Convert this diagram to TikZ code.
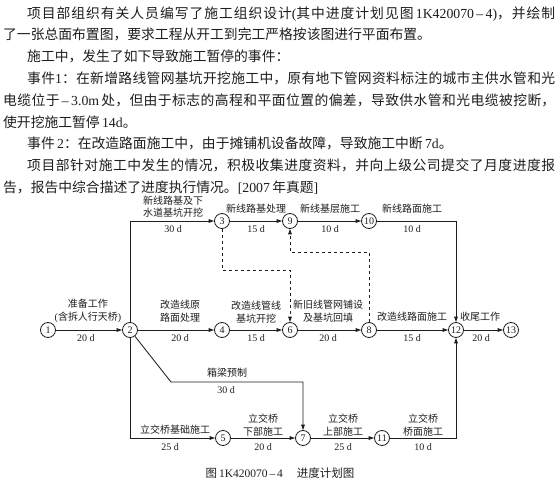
\documentclass[tikz,border=0pt]{standalone}
\usepackage{fontspec}
\setmainfont{Liberation Serif}
\newfontfamily\cjk{Noto Sans CJK SC}
\usetikzlibrary{arrows.meta}
\XeTeXlinebreaklocale "zh"
\XeTeXlinebreakskip=0pt plus 6pt
\XeTeXinterchartokenstate=1
\XeTeXinterchartoks 1 1 = {\hskip 0pt plus 3pt\relax}
\XeTeXinterchartoks 3 1 = {\hskip 0pt plus 3pt\relax}
\XeTeXinterchartoks 1 0 = {\hskip 0pt plus 3pt\relax}
\XeTeXinterchartoks 0 1 = {\hskip 0pt plus 3pt\relax}
\tolerance=10000
\newcommand{\lat}[1]{{\rmfamily #1}}
\definecolor{ink}{HTML}{1E1E1E}
\tikzset{
  bodyfont/.style={font=\cjk\fontsize{13.8}{16}\selectfont},
  bodyline/.style={bodyfont, anchor=base west, inner sep=0pt, text=ink},
  jline/.style={bodyline, text width=#1, align=justify},
  ev/.style={circle, draw=ink, line width=0.8pt, minimum size=15pt, inner sep=0pt,
    font=\rmfamily\fontsize{10}{10}\selectfont, text=ink},
  lab/.style={inner sep=0pt, align=center, text=ink, font=\cjk\fontsize{10}{12.5}\selectfont},
  dur/.style={inner sep=0pt, text=ink, font=\rmfamily\fontsize{10}{12}\selectfont},
  act/.style={draw=ink, line width=0.85pt, -{Triangle[length=5.5pt,width=3.6pt]}},
  dum/.style={act, dash pattern=on 3.5pt off 2.5pt},
}
\begin{document}
\begin{tikzpicture}[x=1pt,y=-1pt]
\path[use as bounding box, fill=white] (0,0) rectangle (558,482);

% ---- body text ----
\node[jline=528pt] (t1) at (27,18) {\parfillskip=0pt 项目部组织有关人员编写了施工组织设计\lat{(}其中进度计划见图\lat{\,1K420070\,–\,4)}，并绘制\par};
\node[bodyline] (t2) at (3,39.8) {了一张总面布置图，要求工程从开工到完工严格按该图进行平面布置。};
\node[bodyline] (t3) at (27,61.6) {施工中，发生了如下导致施工暂停的事件：};
\node[jline=528pt] (t4) at (27,83.4) {\parfillskip=0pt 事件\lat{1}：在新增路线管网基坑开挖施工中，原有地下管网资料标注的城市主供水管和光\par};
\node[jline=552pt] (t5) at (3,105.2) {\parfillskip=0pt 电缆位于\lat{\,–\,3.0m\,}处，但由于标志的高程和平面位置的偏差，导致供水管和光电缆被挖断，\par};
\node[bodyline] (t6) at (3,127) {使开挖施工暂停\lat{\,14d}。};
\node[bodyline] (t7) at (27,148.8) {事件\lat{\,2}：在改造路面施工中，由于摊铺机设备故障，导致施工中断\lat{\,7d}。};
\node[jline=528pt] (t8) at (27,170.6) {\parfillskip=0pt 项目部针对施工中发生的情况，积极收集进度资料，并向上级公司提交了月度进度报\par};
\node[bodyline] (t9) at (3,192.4) {告，报告中综合描述了进度执行情况。\lat{[2007\,}年真题\lat{]}};

% ---- events ----
\node[ev] (n1) at (48,330) {1};
\node[ev] (n2) at (130,330) {2};
\node[ev] (n3) at (222,221) {3};
\node[ev] (n9) at (290,221) {9};
\node[ev] (n10) at (369,221) {10};
\node[ev] (n4) at (222,330) {4};
\node[ev] (n6) at (290,330) {6};
\node[ev] (n8) at (369,330) {8};
\node[ev] (n12) at (456,330) {12};
\node[ev] (n13) at (511,330) {13};
\node[ev] (n5) at (223,438) {5};
\node[ev] (n7) at (303,438) {7};
\node[ev] (n11) at (382,438) {11};

\coordinate (bend) at (171,382);
\coordinate (d1) at (222,270);
\coordinate (d2) at (369,252);

% ---- activities ----
\draw[act] (n1) -- (n2);
\draw[act] (n2) |- (n3);
\draw[act] (n3) -- (n9);
\draw[act] (n9) -- (n10);
\draw[act] (n10) -| (n12);
\draw[act] (n2) -- (n4);
\draw[act] (n4) -- (n6);
\draw[act] (n6) -- (n8);
\draw[act] (n8) -- (n12);
\draw[act] (n12) -- (n13);
\draw[act] (n2) -- (bend) -| (n7);
\draw[act] (n2) |- (n5);
\draw[act] (n5) -- (n7);
\draw[act] (n7) -- (n11);
\draw[act] (n11) -| (n12);
\draw[dum] (n3) -- (d1) -| (n6);
\draw[dum] (n8) -- (d2) -| (n9);

% ---- labels ----
\node[lab] (a12) at (88,311) {准备工作\\\lat{(}含拆人行天桥\lat{)}};
\node[dur] (b12) at (86,338) {20 d};
\node[lab] (a23) at (173,206.5) {新线路基及下\\水道基坑开挖};
\node[dur] (b23) at (173,229) {30 d};
\node[lab] (a39) at (256,209) {新线路基处理};
\node[dur] (b39) at (256,229) {15 d};
\node[lab] (a910) at (330,209) {新线基层施工};
\node[dur] (b910) at (330,229) {10 d};
\node[lab] (a1012) at (412,209) {新线路面施工};
\node[dur] (b1012) at (412,229) {10 d};
\node[lab] (a24) at (180,311) {改造线原\\路面处理};
\node[dur] (b24) at (180,338) {20 d};
\node[lab] (a46) at (256,312) {改造线管线\\基坑开挖};
\node[dur] (b46) at (256,338) {15 d};
\node[lab] (a68) at (328,311) {新旧线管网铺设\\及基坑回填};
\node[dur] (b68) at (328,338) {20 d};
\node[lab] (a812) at (412,317) {改造线路面施工};
\node[dur] (b812) at (412,338) {15 d};
\node[lab] (a1213) at (480,317) {收尾工作};
\node[dur] (b1213) at (481,338) {20 d};
\node[lab] (a27) at (227,373) {箱梁预制};
\node[dur] (b27) at (226,390) {30 d};
\node[lab] (a25) at (175,430) {立交桥基础施工};
\node[dur] (b25) at (170,447) {25 d};
\node[lab] (a57) at (263,425) {立交桥\\下部施工};
\node[dur] (b57) at (263,447) {20 d};
\node[lab] (a711) at (343,425) {立交桥\\上部施工};
\node[dur] (b711) at (343,447) {25 d};
\node[lab] (a1112) at (423,425) {立交桥\\桥面施工};
\node[dur] (b1112) at (423,447) {10 d};

\node[inner sep=0pt, text=ink, font=\cjk\fontsize{11.5}{13}\selectfont] (cap) at (280,473)
  {图\lat{\,1K420070\,–\,4}\hspace{1.2em}进度计划图};
\end{tikzpicture}
\end{document}
